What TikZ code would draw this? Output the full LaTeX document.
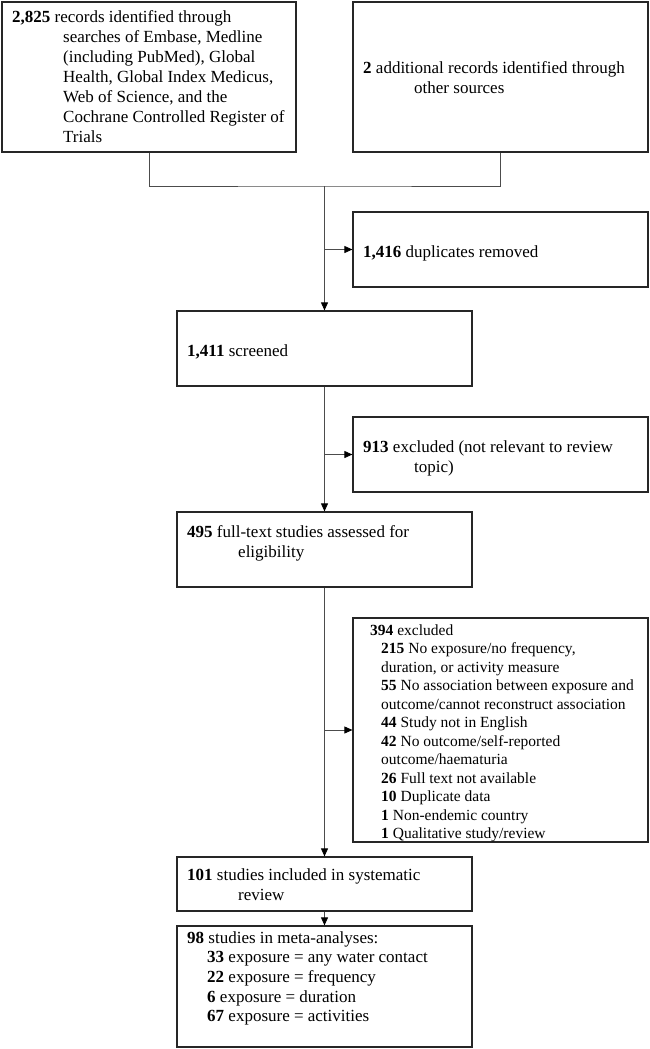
\documentclass[tikz,border=0pt]{standalone}
\usepackage{fontspec}
\setmainfont{Liberation Serif}
\usetikzlibrary{arrows.meta}
\begin{document}
\begin{tikzpicture}[x=1pt,y=-1pt,
  box/.style={draw=black!85, line width=1.2pt, inner sep=0pt},
  txt/.style={anchor=north west, inner sep=0pt, align=left, font=\fontsize{17}{20}\selectfont},
  small/.style={font=\fontsize{15.5}{18.5}\selectfont},
  meta/.style={font=\fontsize{17}{19.6}\selectfont},
  conn/.style={draw=black!70, line width=0.8pt},
  arr/.style={conn, -{Triangle[length=8pt,width=7pt,color=black]}}]
\useasboundingbox (0,0) rectangle (649,1049);
% boxes
\node[box, minimum width=294pt, minimum height=150pt] (b1) at (149,77) {};
\node[box, minimum width=295pt, minimum height=150pt] (b2) at (500.5,77) {};
\node[box, minimum width=295pt, minimum height=75pt] (dup) at (500.5,249.5) {};
\node[box, minimum width=295pt, minimum height=75pt] (scr) at (324.5,348.5) {};
\node[box, minimum width=295pt, minimum height=75pt] (ex1) at (500.5,454.5) {};
\node[box, minimum width=295pt, minimum height=75pt] (full) at (324.5,549.5) {};
\node[box, minimum width=295pt, minimum height=224pt] (ex2) at (500.5,730) {};
\node[box, minimum width=295pt, minimum height=54pt] (inc) at (324.5,884) {};
\node[box, minimum width=295pt, minimum height=121pt] (meta) at (324.5,986.5) {};
% texts
\node[txt] (t1) at (12,9) {\rule{0pt}{13pt}\textbf{2,825} records identified through\\
\hspace*{51pt}searches of Embase, Medline\\
\hspace*{51pt}(including PubMed), Global\\
\hspace*{51pt}Health, Global Index Medicus,\\
\hspace*{51pt}Web of Science, and the\\
\hspace*{51pt}Cochrane Controlled Register of\\
\hspace*{51pt}Trials};
\node[txt] (t2) at (363,60) {\rule{0pt}{13pt}\textbf{2} additional records identified through\\
\hspace*{51pt}other sources};
\node[txt] (tdup) at (363,244) {\rule{0pt}{13pt}\textbf{1,416} duplicates removed};
\node[txt] (tscr) at (187,343) {\rule{0pt}{13pt}\textbf{1,411} screened};
\node[txt] (tex1) at (363,439) {\rule{0pt}{13pt}\textbf{913} excluded (not relevant to review\\
\hspace*{51pt}topic)};
\node[txt] (tfull) at (187,524) {\rule{0pt}{13pt}\textbf{495} full-text studies assessed for\\
\hspace*{51pt}eligibility};
\node[txt, small] (tex2) at (370,622) {\rule{0pt}{13pt}\textbf{394} excluded\\
\hspace*{11pt}\textbf{215} No exposure/no frequency,\\
\hspace*{11pt}duration, or activity measure\\
\hspace*{11pt}\textbf{55} No association between exposure and\\
\hspace*{11pt}outcome/cannot reconstruct association\\
\hspace*{11pt}\textbf{44} Study not in English\\
\hspace*{11pt}\textbf{42} No outcome/self-reported\\
\hspace*{11pt}outcome/haematuria\\
\hspace*{11pt}\textbf{26} Full text not available\\
\hspace*{11pt}\textbf{10} Duplicate data\\
\hspace*{11pt}\textbf{1} Non-endemic country\\
\hspace*{11pt}\textbf{1} Qualitative study/review};
\node[txt] (tinc) at (187,867) {\rule{0pt}{13pt}\textbf{101} studies included in systematic\\
\hspace*{51pt}review};
\node[txt, meta] (tmeta) at (187,930) {\rule{0pt}{13pt}\textbf{98} studies in meta-analyses:\\
\hspace*{20pt}\textbf{33} exposure = any water contact\\
\hspace*{20pt}\textbf{22} exposure = frequency\\
\hspace*{20pt}\textbf{6} exposure = duration\\
\hspace*{20pt}\textbf{67} exposure = activities};
% connectors
\coordinate (m) at (324.5,186);
\draw[conn] (b1.south) |- (m) -| (b2.south);
\draw[arr] (m) -- (scr.north);
\draw[arr] (m |- dup.west) -- (dup.west);
\draw[arr] (scr.south) -- (full.north);
\draw[arr] (scr.south |- ex1.west) -- (ex1.west);
\draw[arr] (full.south) -- (inc.north);
\draw[arr] (full.south |- ex2.west) -- (ex2.west);
\draw[arr] (inc.south) -- (meta.north);
\end{tikzpicture}
\end{document}
